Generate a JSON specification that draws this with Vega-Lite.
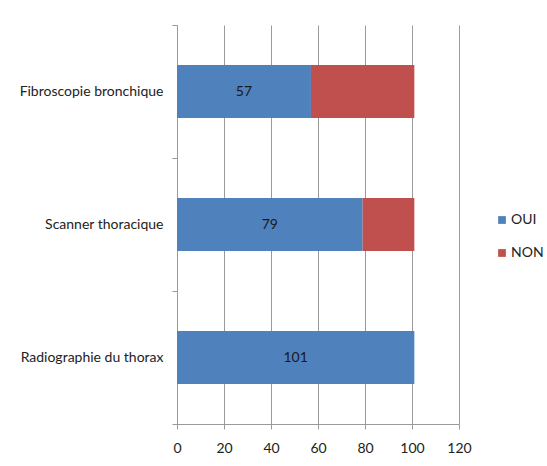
{
  "$schema": "https://vega.github.io/schema/vega-lite/v6.json",
  "width": 282,
  "height": 399,
  "autosize": {"type": "none"},
  "padding": {"left": 177, "top": 25, "right": 88, "bottom": 42},
  "background": "white",
  "data": {
    "values": [
      {"examen": "Fibroscopie bronchique", "reponse": "OUI", "valeur": 57},
      {"examen": "Fibroscopie bronchique", "reponse": "NON", "valeur": 44},
      {"examen": "Scanner thoracique", "reponse": "OUI", "valeur": 79},
      {"examen": "Scanner thoracique", "reponse": "NON", "valeur": 22},
      {"examen": "Radiographie du thorax", "reponse": "OUI", "valeur": 101},
      {"examen": "Radiographie du thorax", "reponse": "NON", "valeur": 0}
    ]
  },
  "config": {
    "view": {"stroke": null},
    "font": "Lato",
    "axis": {
      "labelFont": "Lato",
      "labelFontSize": 14,
      "labelColor": "#222222",
      "domainColor": "#9a9a9a",
      "tickColor": "#9a9a9a",
      "gridColor": "#9a9a9a",
      "tickSize": 5
    }
  },
  "resolve": {"scale": {"x": "independent"}},
  "layer": [
    {
      "mark": {"type": "bar", "height": {"band": 0.4}},
      "encoding": {
        "y": {
          "field": "examen",
          "type": "nominal",
          "sort": ["Fibroscopie bronchique", "Scanner thoracique", "Radiographie du thorax"],
          "scale": {"paddingInner": 0, "paddingOuter": 0},
          "axis": {"title": null, "tickBand": "extent", "labelPadding": 9, "grid": false}
        },
        "x": {
          "field": "valeur",
          "type": "quantitative",
          "stack": "zero",
          "scale": {"domain": [0, 120]},
          "axis": {"title": null, "values": [0, 20, 40, 60, 80, 100, 120], "grid": true, "labelPadding": 12, "labelFlush": false}
        },
        "order": {"field": "reponse", "sort": "descending"},
        "color": {
          "field": "reponse",
          "type": "nominal",
          "scale": {"domain": ["OUI", "NON"], "range": ["#4F81BD", "#C0504D"]},
          "legend": {
            "title": null,
            "orient": "none",
            "legendX": 318,
            "legendY": 188,
            "symbolType": "square",
            "symbolSize": 60,
            "symbolStrokeWidth": 0,
            "labelFontSize": 14,
            "labelColor": "#222222",
            "labelFont": "Lato",
            "rowPadding": 19,
            "labelOffset": 2
          }
        }
      }
    },
    {
      "transform": [{"filter": "datum.reponse === 'OUI'"}],
      "mark": {"type": "text", "fontSize": 14, "color": "#1a1a1a", "font": "Lato"},
      "encoding": {
        "y": {"field": "examen", "type": "nominal", "sort": ["Fibroscopie bronchique", "Scanner thoracique", "Radiographie du thorax"]},
        "x": {"field": "valeur", "type": "quantitative", "scale": {"domain": [0, 240]}, "axis": null},
        "text": {"field": "valeur", "type": "quantitative"}
      }
    }
  ]
}
